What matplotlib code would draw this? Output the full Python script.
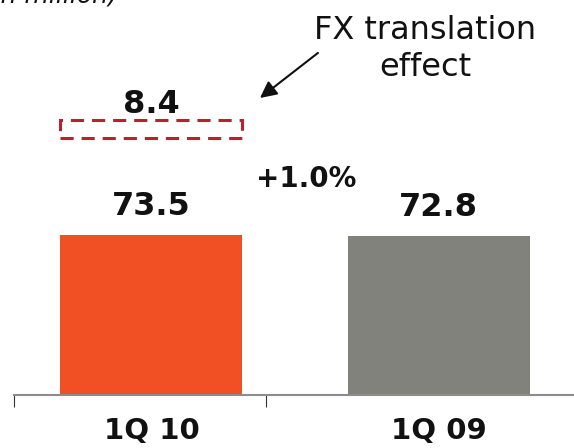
import matplotlib
matplotlib.use("Agg")
import matplotlib.pyplot as plt

# data
categories = ["1Q 10", "1Q 09"]
values = [73.5, 72.8]
fx_effect = 8.4
growth_label = "+1.0%"
unit_label = "(€ in million)"
fx_label = "FX translation\neffect"

bar_colors = ["#F05023", "#80827B"]
fx_color = "#BE1E2D"

plt.rcParams['font.family'] = ['DejaVu Sans']

fig = plt.figure(figsize=(5.74, 4.48), dpi=100)
ax = fig.add_axes([14/574, 1 - 395/448, 1 - 14/574, 395/448])

x = list(range(len(categories)))
bars = ax.bar(x, values, width=0.634, color=bar_colors, zorder=2)

ax.set_xlim(-0.479, 1.472)
ax.set_ylim(0, 181.4)

# value labels
for xi, v in zip(x, values):
    ax.annotate(f"{v:.1f}", xy=(xi, v), xytext=(0, 14.4), textcoords="offset points",
                ha="center", va="baseline", fontsize=23, fontweight="bold", color="#111111")

# FX translation dashed box (above first bar)
fx_base = 118
ax.bar(0, fx_effect, bottom=fx_base, width=0.634, fill=False, edgecolor=fx_color,
       linewidth=2.2, linestyle=(0, (4.3, 2.6)), zorder=3)
ax.annotate(f"{fx_effect:.1f}", xy=(0, fx_base + fx_effect), xytext=(0, 5),
            textcoords="offset points", ha="center", va="baseline",
            fontsize=23, fontweight="bold", color="#111111")

# growth label
ax.text(0.538, 95.5, growth_label, ha="center", va="baseline", fontsize=20,
        fontweight="bold", color="#111111")

# FX annotation text + arrow
ax.text(0.953, 174.6, fx_label, ha="center", va="top", fontsize=23,
        color="#111111", linespacing=1.25)
ax.annotate("", xy=(0.378, 136.4), xytext=(0.580, 157.1),
            arrowprops=dict(arrowstyle="-|>", color="#111111", lw=1.5,
                            mutation_scale=25, shrinkA=0, shrinkB=0))

# unit label, mostly cut off at the top edge as in the reference
fig.text(118/574, 1 - 3/448, unit_label, ha="right", va="baseline", fontsize=18,
         style="italic", color="#111111")

# axes styling
for s in ["top", "right", "left"]:
    ax.spines[s].set_visible(False)
ax.spines["bottom"].set_color("#8C8C8C")
ax.spines["bottom"].set_linewidth(1.5)
ax.set_yticks([])
ax.set_xticks(x)
ax.set_xticklabels(categories, fontsize=21, fontweight="bold", color="#111111")
ax.tick_params(axis="x", which="major", length=0, pad=16)
ax.set_xticks([-0.479, 0.399], minor=True)
ax.tick_params(axis="x", which="minor", length=8.6, width=0.8, color="#333333")

fig.savefig("out.png", dpi=100)
